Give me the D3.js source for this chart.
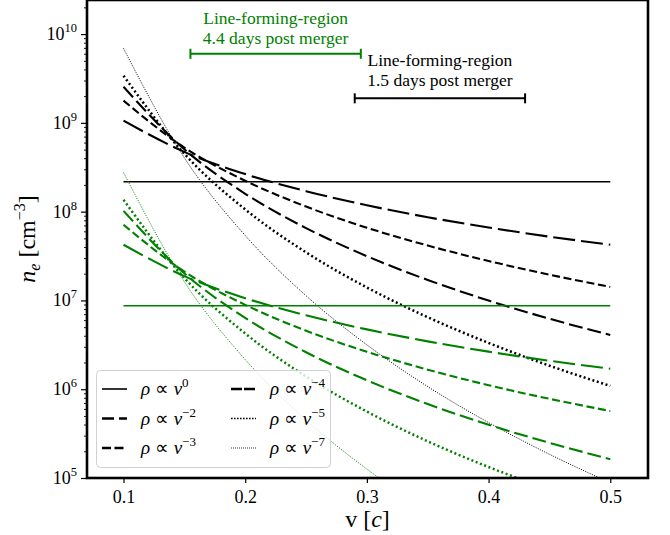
<!DOCTYPE html>
<html>
<head>
<meta charset="utf-8">
<script src="https://cdn.jsdelivr.net/npm/d3@7"></script>
<style>
  body { margin: 0; background: #fff; }
  svg text { font-family: "Liberation Serif", "Times New Roman", serif !important; }
</style>
</head>
<body>
<div id="chart"></div>
<script>
// velocity grid (units of c)
var vel = [0.1, 0.15, 0.2, 0.25, 0.3, 0.35, 0.4, 0.45, 0.5];

// electron density, 1.5 days post merger (black)
var early0 = [2.17e8, 2.17e8, 2.17e8, 2.17e8, 2.17e8, 2.17e8, 2.17e8, 2.17e8, 2.17e8];
var early2 = [1.06e9, 4.71e8, 2.65e8, 1.70e8, 1.18e8, 8.65e7, 6.63e7, 5.23e7, 4.24e7];
var early3 = [1.78e9, 5.27e8, 2.23e8, 1.14e8, 6.59e7, 4.15e7, 2.78e7, 1.95e7, 1.42e7];
var early4 = [2.55e9, 5.04e8, 1.59e8, 6.53e7, 3.15e7, 1.70e7, 9.96e6, 6.22e6, 4.08e6];
var early5 = [3.40e9, 4.48e8, 1.06e8, 3.48e7, 1.40e7, 6.47e6, 3.32e6, 1.84e6, 1.09e6];
var early7 = [6.90e9, 4.04e8, 5.39e7, 1.13e7, 3.16e6, 1.07e6, 4.21e5, 1.85e5, 8.83e4];

// electron density, 4.4 days post merger (green)
var late0 = [8.7e6, 8.7e6, 8.7e6, 8.7e6, 8.7e6, 8.7e6, 8.7e6, 8.7e6, 8.7e6];
var late2 = [4.24e7, 1.88e7, 1.06e7, 6.80e6, 4.72e6, 3.46e6, 2.65e6, 2.09e6, 1.70e6];
var late3 = [7.12e7, 2.11e7, 8.92e6, 4.56e6, 2.64e6, 1.66e6, 1.11e6, 7.80e5, 5.68e5];
var late4 = [1.02e8, 2.02e7, 6.36e6, 2.61e6, 1.26e6, 6.80e5, 3.98e5, 2.49e5, 1.63e5];
var late5 = [1.36e8, 1.79e7, 4.25e6, 1.39e6, 5.60e5, 2.59e5, 1.33e5, 7.40e4, 4.35e4];
var late7 = [2.76e8, 1.62e7, 2.16e6, 4.52e5, 1.26e5, 4.29e4, 1.68e4, 7.39e3, 3.53e3];

var slopes = [0, 2, 3, 4, 5, 7];
var xTicks = [0.1, 0.2, 0.3, 0.4, 0.5];
var yExps = [5, 6, 7, 8, 9, 10];

// line-forming regions: [vmin, vmax, n_e level]
var regionLate = [0.155, 0.295, 6.0e9];
var regionEarly = [0.29, 0.43, 1.89e9];

var width = 670, height = 535;
var margin = {top: 0, right: 22, bottom: 57, left: 87};

var svg = d3.select("#chart").append("svg")
  .attr("width", width)
  .attr("height", height);

var x = d3.scaleLinear().domain([0.07, 0.531]).range([margin.left, width - margin.right]);
var y = d3.scaleLog().domain([1e5, 2.42e10]).range([height - margin.bottom, margin.top]);

svg.append("clipPath").attr("id", "clip")
  .append("rect")
  .attr("x", margin.left).attr("y", margin.top)
  .attr("width", width - margin.left - margin.right)
  .attr("height", height - margin.top - margin.bottom);

var plot = svg.append("g").attr("clip-path", "url(#clip)");

// dash styles per slope
var styles = {
  0: {dash: null, lw: 1.6},
  2: {dash: "22,6", lw: 2.1},
  3: {dash: "8,3.7", lw: 2.1},
  4: {dash: "14,5", lw: 2.1},
  5: {dash: "2,2.6", lw: 2.5},
  7: {dash: "1,1.4", lw: 1}
};

var line = d3.line()
  .x(function(d) { return x(d[0]); })
  .y(function(d) { return y(d[1]); })
  .curve(d3.curveMonotoneX);

function drawSet(series, color) {
  series.forEach(function(vals, i) {
    var k = slopes[i];
    plot.append("path")
      .datum(vals.map(function(n, j) { return [vel[j], n]; }))
      .attr("d", line)
      .attr("fill", "none")
      .attr("stroke", color)
      .attr("stroke-width", styles[k].lw)
      .attr("stroke-dasharray", styles[k].dash);
  });
}

drawSet([early0, early2, early3, early4, early5, early7], "#000");
drawSet([late0, late2, late3, late4, late5, late7], "#008000");

// line-forming region bars
function regionBar(r, color, lines, off) {
  var g = svg.append("g");
  var yy = y(r[2]);
  g.append("line")
    .attr("x1", x(r[0])).attr("x2", x(r[1]))
    .attr("y1", yy).attr("y2", yy)
    .attr("stroke", color).attr("stroke-width", 2);
  [r[0], r[1]].forEach(function(v) {
    g.append("line")
      .attr("x1", x(v)).attr("x2", x(v))
      .attr("y1", yy - 5).attr("y2", yy + 5)
      .attr("stroke", color).attr("stroke-width", 2);
  });
  var cx = (x(r[0]) + x(r[1])) / 2;
  lines.forEach(function(t, i) {
    g.append("text")
      .attr("x", cx)
      .attr("y", yy - off + i * 20)
      .attr("text-anchor", "middle")
      .attr("font-size", 17.5)
      .attr("fill", color)
      .text(t);
  });
}
regionBar(regionLate, "#008000", ["Line-forming-region", "4.4 days post merger"], 30);
regionBar(regionEarly, "#000", ["Line-forming-region", "1.5 days post merger"], 32);

// axes
var xAxis = svg.append("g")
  .attr("transform", "translate(0," + (height - margin.bottom) + ")")
  .call(d3.axisBottom(x).tickValues(xTicks).tickSize(5).tickSizeOuter(0).tickFormat(d3.format(".1f")));
xAxis.select(".domain").remove();
xAxis.selectAll(".tick line").attr("stroke-width", 1.2);
xAxis.selectAll(".tick text")
  .attr("font-size", 18)
  .attr("dy", "0.95em")
  .attr("fill", "#000");

var minors = [];
yExps.forEach(function(e) {
  for (var m = 2; m <= 9; m++) {
    var v = m * Math.pow(10, e);
    if (v < y.domain()[1]) minors.push(v);
  }
});
var yMinor = svg.append("g")
  .attr("transform", "translate(" + margin.left + ",0)")
  .call(d3.axisLeft(y).tickValues(minors).tickSize(3).tickFormat(""));
yMinor.select(".domain").remove();
yMinor.selectAll(".tick line").attr("stroke-width", 0.9);

var yMajor = svg.append("g")
  .attr("transform", "translate(" + margin.left + ",0)")
  .call(d3.axisLeft(y).tickValues(yExps.map(function(e) { return Math.pow(10, e); })).tickSize(6).tickFormat(""));
yMajor.select(".domain").remove();
yMajor.selectAll(".tick line").attr("stroke-width", 1.2);

yExps.forEach(function(e) {
  var t = svg.append("text")
    .attr("x", margin.left - 10)
    .attr("y", y(Math.pow(10, e)) + 6)
    .attr("text-anchor", "end")
    .attr("font-size", 18);
  t.append("tspan").text("10");
  t.append("tspan").attr("dy", -8).attr("font-size", 12.5).text(e);
});

// frame
svg.append("rect")
  .attr("x", margin.left).attr("y", margin.top)
  .attr("width", width - margin.left - margin.right)
  .attr("height", height - margin.top - margin.bottom)
  .attr("fill", "none")
  .attr("stroke", "#000")
  .attr("stroke-width", 2.6);

// axis labels
var xl = svg.append("text")
  .attr("x", (x.range()[0] + x.range()[1]) / 2)
  .attr("y", 527)
  .attr("text-anchor", "middle")
  .attr("font-size", 24);
xl.append("tspan").text("v [");
xl.append("tspan").attr("font-style", "italic").text("c");
xl.append("tspan").text("]");

var yl = svg.append("text")
  .attr("transform", "translate(35," + ((y.range()[0] + y.range()[1]) / 2) + ") rotate(-90)")
  .attr("text-anchor", "middle")
  .attr("font-size", 24);
yl.append("tspan").attr("font-style", "italic").text("n");
yl.append("tspan").attr("font-style", "italic").attr("font-size", 16).attr("dy", 5).text("e");
yl.append("tspan").attr("dy", -5).text(" [cm");
yl.append("tspan").attr("font-size", 16).attr("dy", -10).text("\u22123");
yl.append("tspan").attr("dy", 10).text("]");

// legend
var legendStyles = {
  0: {dash: null, lw: 1.6},
  2: {dash: "12,5", lw: 2.4},
  3: {dash: "9,3.5", lw: 2.4},
  4: {dash: "11,2", lw: 2.6},
  5: {dash: "1.6,1.4", lw: 1.5},
  7: {dash: "1,1", lw: 0.8}
};
var legend = svg.append("g");
legend.append("rect")
  .attr("x", 96.5).attr("y", 370.5)
  .attr("width", 234).attr("height", 97)
  .attr("rx", 4)
  .attr("fill", "#fff").attr("fill-opacity", 0.8)
  .attr("stroke", "#d0d0d0").attr("stroke-width", 1);

slopes.forEach(function(k, i) {
  var col = Math.floor(i / 3), row = i % 3;
  var lx = col === 0 ? 102 : 231;
  var ly = 389 + row * 29.5;
  legend.append("line")
    .attr("x1", lx).attr("x2", lx + 25)
    .attr("y1", ly).attr("y2", ly)
    .attr("stroke", "#000")
    .attr("stroke-width", legendStyles[k].lw)
    .attr("stroke-dasharray", legendStyles[k].dash);
  var t = legend.append("text")
    .attr("x", lx + 39)
    .attr("y", ly + 6)
    .attr("font-size", 19);
  t.append("tspan").attr("font-style", "italic").text("\u03c1");
  t.append("tspan").text(" \u221d ");
  t.append("tspan").attr("font-style", "italic").text("v");
  t.append("tspan").attr("font-size", 13).attr("dy", -8).text(k === 0 ? "0" : "\u2212" + k);
});
</script>
</body>
</html>
